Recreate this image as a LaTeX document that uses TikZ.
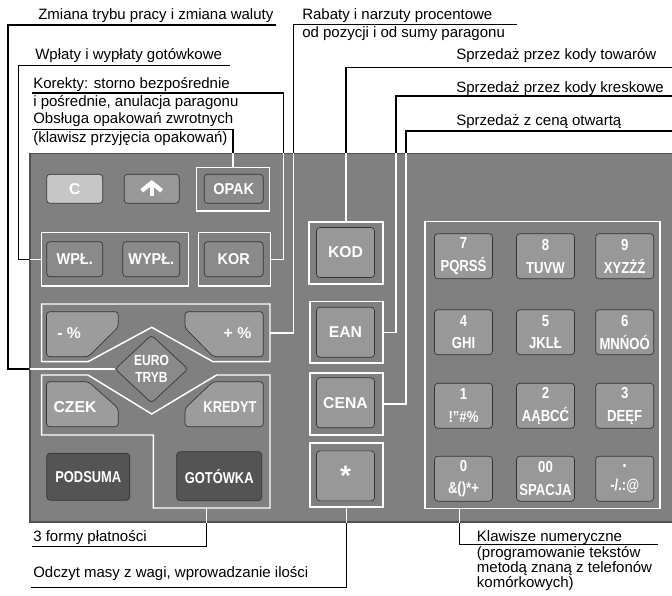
\documentclass[tikz,border=0pt]{standalone}
\usepackage{fontspec}
\setmainfont{Liberation Sans}
\newfontfamily\keyfont[FakeStretch=0.92]{Liberation Sans}
\newfontfamily\narrowfont[FakeStretch=0.82]{Liberation Sans}
\usetikzlibrary{shapes.geometric,backgrounds}

\definecolor{panelgray}{HTML}{808080}
\definecolor{panelrim}{HTML}{505050}
\definecolor{keylight}{HTML}{C6C6C6}
\definecolor{keymid}{HTML}{989898}
\definecolor{keyfn}{HTML}{8A8A8A}
\definecolor{keypct}{HTML}{9C9C9C}
\definecolor{keydark}{HTML}{545454}

\begin{document}
\begin{tikzpicture}[x=0.75pt,y=-0.75pt,
  lbl/.style={anchor=base west,inner sep=0pt,font=\fontsize{11.25}{13}\selectfont},
  lead/.style={line width=1.1pt},
  grp/.style={draw=white,line width=1.1pt,inner sep=0pt},
  button/.style={draw=black!80,line width=0.5pt,rounded corners=2.5pt,inner sep=0pt,text=white,font=\bfseries\fontsize{11.8}{13}\selectfont},
  btnfn/.style={button,fill=keyfn,font=\keyfont\bfseries\fontsize{11.8}{13}\selectfont},
  btnmid/.style={button,fill=keymid,minimum width=58*0.75pt,minimum height=50*0.75pt},
  btnnum/.style={button,fill=keymid,minimum width=58*0.75pt,minimum height=45*0.75pt,align=center,font=\narrowfont\bfseries\fontsize{12}{17}\selectfont},
  btndark/.style={button,fill=keydark,font=\narrowfont\bfseries\fontsize{11.8}{13}\selectfont},
  keytext/.style={inner sep=0pt,text=white,font=\bfseries\fontsize{11.8}{13}\selectfont}]

\useasboundingbox (0,0) rectangle (672,596);

% panel
\fill[panelgray] (30,153.5) rectangle (672,522);
\draw[panelrim,line width=0.8pt] (672,153.5) -- (30,153.5) -- (30,522) -- (672,522);

% white frames round groups of keys
\node[grp,minimum width=72.6*0.75pt,minimum height=43.4*0.75pt] (opakbox) at (233,189.2) {};
\node[grp,minimum width=146.6*0.75pt,minimum height=53.3*0.75pt] (wplbox) at (115,259.3) {};
\node[grp,minimum width=72*0.75pt,minimum height=53.3*0.75pt] (korbox) at (234.7,259.3) {};
\node[grp,minimum width=73.7*0.75pt,minimum height=62.3*0.75pt] (kodbox) at (346,253) {};
\node[grp,minimum width=73*0.75pt,minimum height=61.3*0.75pt] (eanbox) at (346.5,332.3) {};
\node[grp,minimum width=73*0.75pt,minimum height=62.3*0.75pt] (cenabox) at (346.5,404) {};
\node[grp,minimum width=73*0.75pt,minimum height=63.7*0.75pt] (starbox) at (346.5,475) {};
\node[grp,minimum width=235*0.75pt,minimum height=286.6*0.75pt] (numbox) at (542.5,365) {};
\draw[grp] (41.7,304) -- (270,304) -- (270,361.7) -- (213,361.7) -- (151.7,327.3) -- (88,361.7) -- (41.7,361.7) -- cycle;
\draw[grp] (41.7,375) -- (88,375) -- (151.7,414) -- (216.7,375) -- (270,375) -- (270,508) -- (153.3,508) -- (153.3,435) -- (41.7,435) -- cycle;
\coordinate (pctE) at (270,333);
\coordinate (payS) at (206.7,508);
\coordinate (numS) at (459.3,508.3);

% keys, left block
\node[button,fill=keylight,minimum width=56*0.75pt,minimum height=29*0.75pt] (clr) at (74.7,188.8) {C};
\node[button,fill=keymid,minimum width=55*0.75pt,minimum height=29*0.75pt] (up) at (151.7,188.8) {};
\draw[white,line width=3.2pt] (up) ++(0,7.5) -- ++(0,-12);
\draw[white,line width=3.2pt] (up) ++(-10,2) -- ++(10,-8) -- ++(10,8);
\node[btnfn,minimum width=59*0.75pt,minimum height=29*0.75pt] (opak) at (233.7,188.8) {OPAK};
\node[btnfn,minimum width=56*0.75pt,minimum height=35*0.75pt] (wpl) at (74.7,259.2) {WPŁ.};
\node[btnfn,minimum width=57*0.75pt,minimum height=35*0.75pt] (wypl) at (151.3,259.2) {WYPŁ.};
\node[btnfn,minimum width=59*0.75pt,minimum height=35*0.75pt] (kor) at (233.7,259.2) {KOR};

\filldraw[button,fill=keypct] (46.5,311.7) -- (118.3,311.7) -- (118.3,327) -- (88.3,356.7) -- (46.5,356.7) -- cycle;
\filldraw[button,fill=keypct] (185,311.7) -- (263.3,311.7) -- (263.3,356.7) -- (213.3,356.7) -- (185,328) -- cycle;
\filldraw[button,fill=keypct] (46.5,381.7) -- (88.3,381.7) -- (118.3,408.3) -- (118.3,426.7) -- (46.5,426.7) -- cycle;
\filldraw[button,fill=keypct] (213,381.7) -- (263.3,381.7) -- (263.3,426.7) -- (185,426.7) -- (185,408.3) -- cycle;
\node[keytext] (minus) at (69.2,333) {- \%};
\node[keytext] (plus) at (237.5,333) {+ \%};
\node[keytext] (czek) at (75,406.7) {CZEK};
\node[keytext,font=\narrowfont\bfseries\fontsize{11.8}{13}\selectfont] (kredyt) at (230,406.7) {KREDYT};
\node[button,diamond,fill=keyfn,minimum width=73*0.75pt,minimum height=68*0.75pt,align=center,font=\narrowfont\bfseries\fontsize{11}{12.5}\selectfont] (euro) at (151.5,369) {EURO\\TRYB};
\node[btndark,minimum width=83*0.75pt,minimum height=47*0.75pt] (podsuma) at (88.3,476.7) {PODSUMA};
\node[btndark,minimum width=85*0.75pt,minimum height=49*0.75pt] (gotowka) at (219.2,476.2) {GOTÓWKA};

% keys, middle column
\node[btnmid] (kod) at (345.5,252.5) {KOD};
\node[btnmid] (ean) at (345.5,332.2) {EAN};
\node[btnmid] (cena) at (345.5,402.8) {CENA};
\node[btnmid,font=\bfseries\fontsize{21}{21}\selectfont] (star) at (345.5,475.9) {*};

% numeric pad
\foreach \nm/\dg/\ch/\cx/\cy in {n7/7/PQRSŚ/463.5/256.2, n8/8/TUVW/545.5/256.2, n9/9/XYZŻŹ/624.7/256.2,
  n4/4/GHI/463.5/332.2, n5/5/JKLŁ/545.5/332.2, n6/6/MNŃOÓ/624.7/332.2,
  n1/1/{!”\#\%}/463.5/405.8, n2/2/AĄBCĆ/545.5/405.8, n3/3/DEĘF/624.7/405.8,
  n0/0/{\&()*+}/463.5/478.7, n00/00/SPACJA/545.5/478.7, ndot/{\fontsize{15}{17}\selectfont.}/{-/.:@}/624.7/478.7}
  \node[btnnum] (\nm) at (\cx,\cy) {\dg\\\ch};

% labels
\node[lbl] (zmiana) at (38,20) {Zmiana trybu pracy i zmiana waluty};
\node[lbl] (wplaty) at (35,59.5) {Wpłaty i wypłaty gotówkowe};
\node[lbl] (korekty) at (33,88) {Korekty: storno bezpośrednie};
\node[lbl] (korekty2) at (33,106) {i pośrednie, anulacja paragonu};
\node[lbl] (obsluga) at (33,123.5) {Obsługa opakowań zwrotnych};
\node[lbl] (obsluga2) at (33,142) {(klawisz przyjęcia opakowań)};
\node[lbl] (rabaty) at (302,20) {Rabaty i narzuty procentowe};
\node[lbl] (rabaty2) at (302,37) {od pozycji i od sumy paragonu};
\node[lbl] (kody) at (456,60) {Sprzedaż przez kody towarów};
\node[lbl] (kreskowe) at (456,92) {Sprzedaż przez kody kreskowe};
\node[lbl] (cenaotw) at (456,125) {Sprzedaż z ceną otwartą};
\node[lbl] (formy) at (33,541.5) {3 formy płatności};
\node[lbl] (odczyt) at (33,577.5) {Odczyt masy z wagi, wprowadzanie ilości};
\node[lbl] (klawisze) at (476.7,541.5) {Klawisze numeryczne};
\node[lbl] (klawisze2) at (476.7,557.5) {(programowanie tekstów};
\node[lbl] (klawisze3) at (476.7,572.5) {metodą znaną z telefonów};
\node[lbl] (klawisze4) at (476.7,587) {komórkowych)};

\coordinate (zmianaR) at (276,25);
\coordinate (wplatyR) at (230,65.5);
\coordinate (korektyL) at (32,93);
\coordinate (obslugaL) at (32,129.5);
\coordinate (rabatyR) at (517,24.5);
\coordinate (kodyR) at (672,67.5);
\coordinate (kreskoweR) at (672,96);
\coordinate (cenaR) at (672,131);
\coordinate (formyL) at (32,546.7);
\coordinate (odczytL) at (31,587.7);
\coordinate (klawiszeR) at (658,544.3);

\def\callouts{(zmianaR) -- (8,25) |- (euro.west)
  (wplatyR) -- (18.3,65.5) |- (wplbox.west)
  (korektyL) -- (283.3,93) |- (korbox.east)
  (obslugaL) -| (opakbox.north)
  (rabatyR) -- (293.3,24.5) |- (pctE)
  (kodyR) -| (kodbox.north)
  (kreskoweR) -- (396,96) |- (eanbox.east)
  (cenaR) -- (406,131) |- (cenabox.east)
  (payS) |- (formyL)
  (starbox.south) |- (odczytL)
  (numS) |- (klawiszeR)}

% leaders: black outside the panel, white inside it
\begin{scope}[on background layer]
  \draw[lead] \callouts;
\end{scope}
\begin{scope}
  \clip (30,153.5) rectangle (672,522);
  \draw[lead,white,line width=0.8pt] \callouts;
\end{scope}
\end{tikzpicture}
\end{document}
